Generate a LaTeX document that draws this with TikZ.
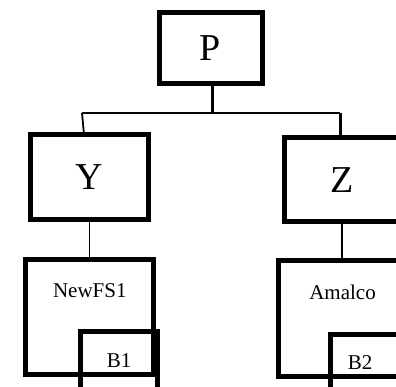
\documentclass[tikz,border=0pt]{standalone}
\usepackage{fontspec}
\setmainfont{Liberation Serif}
\usetikzlibrary{positioning}

\begin{document}
\begin{tikzpicture}[x=1pt,y=-1pt,
 box/.style={draw,line width=5pt,outer sep=0pt,inner sep=0pt,font=\fontsize{38}{40}\selectfont},
 bbox/.style={draw,line width=5pt,outer sep=0pt,inner sep=0pt,font=\fontsize{21}{24}\selectfont},
 lnk/.style={draw,line width=1.8pt},
 lnkb/.style={draw,line width=3pt}]
\path[use as bounding box] (0,0) rectangle (396,386);
\clip (0,0) rectangle (396,386);
% top level
\node[box,minimum width=103,minimum height=71.5] (p) at (210.5,48.2) {P};
% second level
\node[box,minimum width=118,minimum height=85] (y) at (89.5,177) {Y};
\node[box,minimum width=116,minimum height=84.5] (z) at (342,179.7) {Z};
% companies
\node[bbox,minimum width=128,minimum height=115,
  label={[bbox,draw=none,yshift=-38.3pt]north:NewFS1}] (nfs) at (89.8,316.5) {};
\node[bbox,minimum width=128,minimum height=116,
  label={[bbox,draw=none,yshift=-38.5pt]north:Amalco}] (am) at (342.5,318.8) {};
\node[bbox,minimum width=76.7,minimum height=58.2] (b1) at (119.2,360.9) {B1};
\node[bbox,minimum width=76.7,minimum height=56,
  label={[bbox,draw=none,xshift=-9pt]center:B2}] (b2) at (369.2,362.2) {};
% connectors
\coordinate (busl) at (82,113);
\coordinate (busr) at (340,113);
\draw[lnkb] ([xshift=1.5pt]p.south) -- ([xshift=1.5pt]p.south |- busl);
\draw[lnk] (busl) -- (busr);
\draw[lnk] (busl) -- ([xshift=-5.5pt]y.north);
\draw[lnkb] (busr) -- (busr |- z.north);
\draw[lnk] (y.south) -- (y.south |- nfs.north);
\draw[lnk,line width=2.5pt] (z.south) -- (z.south |- am.north);
\end{tikzpicture}
\end{document}
